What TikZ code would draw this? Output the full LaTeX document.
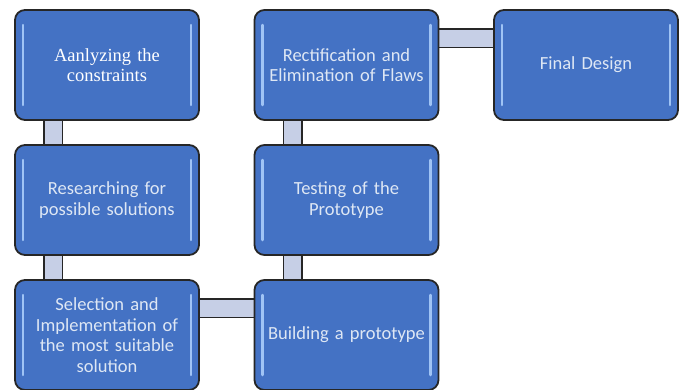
\documentclass[tikz,border=0pt]{standalone}
\usepackage{fontspec}
\setmainfont[WordSpace=0.6]{Carlito}
\newfontfamily\stepserif{Liberation Serif}
\usetikzlibrary{backgrounds}
\definecolor{boxblue}{RGB}{68,114,196}
\definecolor{boxtext}{RGB}{222,231,244}
\definecolor{barfill}{RGB}{198,207,230}
\definecolor{glow}{RGB}{160,196,245}
\tikzset{
  stage/.style={rectangle,rounded corners=10pt,draw=black!85,line width=1.8pt,
    fill=boxblue,minimum width=184pt,minimum height=110pt,inner sep=2pt,
    text width=180pt,align=center,text=boxtext,font=\fontsize{18.5}{20.5}\selectfont,
    path picture={
      \draw[glow,line width=2.5pt,line cap=round]
        ([xshift=8pt,yshift=-15pt]path picture bounding box.north west) --
        ([xshift=8pt,yshift=15pt]path picture bounding box.south west);
      \draw[glow,line width=2.5pt,line cap=round]
        ([xshift=-8pt,yshift=-15pt]path picture bounding box.north east) --
        ([xshift=-8pt,yshift=15pt]path picture bounding box.south east);
    }},
  bar/.style={line width=1.4pt,draw=black!85,double=barfill,double distance=17pt}
}
\begin{document}
\begin{tikzpicture}[x=1pt,y=-1pt]
\useasboundingbox (0,0) rectangle (681,389);
% first column
\node[stage,text=white,font=\stepserif\fontsize{18.5}{20.5}\selectfont] (analyse) at (107,65) {Aanlyzing the\\constraints};
\node[stage] (research) at (107,200) {Researching for\\possible solutions};
\node[stage] (select) at (107,335) {Selection and\\Implementation of\\the most suitable\\solution};
% second column
\node[stage] (build) at (346.5,335) {Building a prototype};
\node[stage] (test) at (346.5,200) {Testing of the\\Prototype};
\node[stage] (rectify) at (346.5,65) {Rectification and\\Elimination of Flaws};
% last one
\node[stage] (final) at (586,65) {Final Design};
\begin{scope}[on background layer]
\draw[bar] ([xshift=39pt]analyse.south west) -- ([xshift=39pt]research.north west);
\draw[bar] ([xshift=39pt]research.south west) -- ([xshift=39pt]select.north west);
\draw[bar] ([yshift=-29pt]select.north east) -- ([yshift=-29pt]build.north west);
\draw[bar] ([xshift=39pt]build.north west) -- ([xshift=39pt]test.south west);
\draw[bar] ([xshift=39pt]test.north west) -- ([xshift=39pt]rectify.south west);
\draw[bar] ([yshift=-29pt]rectify.north east) -- ([yshift=-29pt]final.north west);
\end{scope}
\end{tikzpicture}
\end{document}
